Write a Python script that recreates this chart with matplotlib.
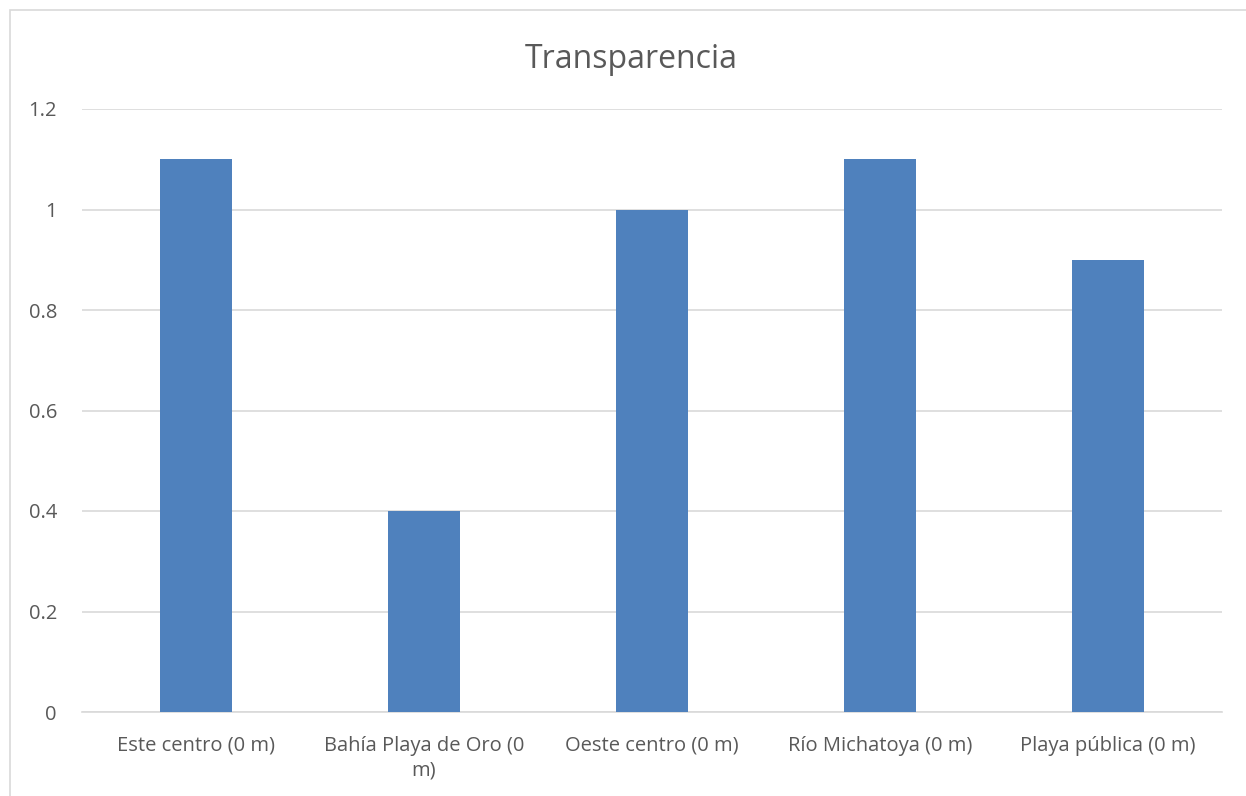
#!/usr/bin/env python3
"""Transparencia bar chart (Excel-style)."""

import matplotlib.pyplot as plt
from matplotlib.patches import Rectangle

OUT = "out.png"

SITES = ["Este centro (0 m)", "Bahía Playa de Oro (0\nm)", "Oeste centro (0 m)",
         "Río Michatoya (0 m)", "Playa pública (0 m)"]
TRANSPARENCIA = [1.1, 0.4, 1.0, 1.1, 0.9]
Y_TICKS = [0, 0.2, 0.4, 0.6, 0.8, 1, 1.2]
Y_TICK_LABELS = ["0", "0.2", "0.4", "0.6", "0.8", "1", "1.2"]

BAR = "#4F81BD"
TEXT = "#595959"
GRID = "#D9D9D9"

plt.rcParams["font.family"] = ["Open Sans", "DejaVu Sans"]


def main():
    fig = plt.figure(figsize=(12.46, 7.96), dpi=100)
    ax = fig.add_axes([82 / 1246, 1 - 712 / 796, (1222 - 82) / 1246, (712 - 109) / 796])

    # chart-area frame, cut off on the right and bottom
    fig.patches.append(Rectangle((10 / 1246, -0.05), 1.2, 1 - 10 / 796 + 0.05,
                                 transform=fig.transFigure, fill=False,
                                 edgecolor=GRID, linewidth=1.2))

    x = range(len(SITES))
    ax.bar(x, TRANSPARENCIA, width=0.315, color=BAR, zorder=3)

    ax.set_xlim(-0.5, len(SITES) - 0.5)
    ax.set_ylim(0, 1.2)
    ax.set_yticks(Y_TICKS)
    ax.set_yticklabels(Y_TICK_LABELS)
    ax.set_xticks(list(x))
    ax.set_xticklabels(SITES, linespacing=1.3)
    ax.yaxis.grid(True, color=GRID, linewidth=1.2, zorder=0)
    for s in ["top", "right", "left"]:
        ax.spines[s].set_visible(False)
    ax.spines["bottom"].set_color(GRID)
    ax.spines["bottom"].set_linewidth(1.2)
    ax.tick_params(axis="both", length=0, labelsize=14.5, labelcolor=TEXT)
    ax.tick_params(axis="y", pad=18)
    ax.tick_params(axis="x", pad=17)

    fig.text(631 / 1246, 1 - 59 / 796, "Transparencia", ha="center", va="center",
             fontsize=23, color=TEXT)

    fig.savefig(OUT, dpi=100)
    plt.close(fig)


if __name__ == "__main__":
    main()
